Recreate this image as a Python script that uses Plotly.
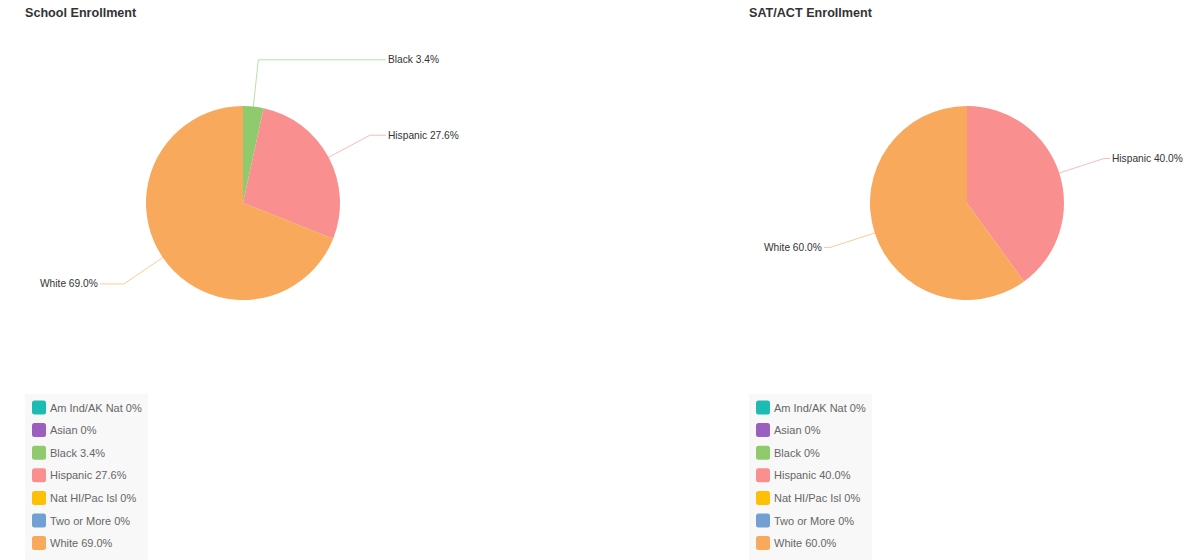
import math
import plotly.graph_objects as go

# ---- data ----
categories = ["Am Ind/AK Nat", "Asian", "Black", "Hispanic", "Nat HI/Pac Isl", "Two or More", "White"]
school_values = [0, 0, 3.4, 27.6, 0, 0, 69.0]
test_values = [0, 0, 0, 40.0, 0, 0, 60.0]
chart_titles = ["School Enrollment", "SAT/ACT Enrollment"]
colors = ["#1cbcb4", "#9a5fbf", "#8fcb6c", "#f98f8f", "#fdc005", "#72a0d2", "#f8a95c"]

W, H = 1200, 560
FONT = "Liberation Sans, Arial, sans-serif"

def px_x(x):
    return x / W

def px_y(y):
    return 1 - y / H

def fmt(v):
    return "0%" if v == 0 else f"{v:.1f}%"

panels = [
    dict(title=chart_titles[0], values=school_values, cx=243, cy=203, r=97, left=25),
    dict(title=chart_titles[1], values=test_values, cx=967, cy=203, r=97, left=749),
]

fig = go.Figure()
shapes = []
annotations = []

for p in panels:
    cx, cy, r = p["cx"], p["cy"], p["r"]
    vals = p["values"]
    fig.add_trace(go.Pie(
        labels=categories,
        values=vals,
        marker=dict(colors=colors, line=dict(width=0)),
        sort=False,
        direction="clockwise",
        rotation=0,
        textinfo="none",
        hoverinfo="label+percent",
        showlegend=False,
        domain=dict(x=[px_x(cx - r), px_x(cx + r)], y=[px_y(cy + r), px_y(cy - r)]),
    ))
    # title
    annotations.append(dict(
        text="<b>" + p["title"] + "</b>", x=px_x(p["left"] - 2), y=px_y(13),
        xref="paper", yref="paper", xanchor="left", yanchor="middle",
        showarrow=False, font=dict(family=FONT, size=12.6, color="#333333"),
    ))
    # leader lines + outside labels
    total = sum(vals)
    cum = 0.0
    for cat, v, col in zip(categories, vals, colors):
        if v <= 0:
            continue
        mid = (cum + v / 2) / total * 2 * math.pi
        cum += v
        dx, dy = math.sin(mid), -math.cos(mid)
        x0, y0 = cx + r * dx, cy + r * dy
        x1, y1 = cx + (r + 47) * dx, cy + (r + 47) * dy
        side = 1 if dx >= 0 else -1
        x2 = cx + side * 143
        shapes.append(dict(
            type="path", xref="paper", yref="paper",
            path=f"M {px_x(x0)} {px_y(y0)} L {px_x(x1)} {px_y(y1)} L {px_x(x2)} {px_y(y1)}",
            line=dict(color=col, width=1), opacity=0.6, layer="below",
        ))
        annotations.append(dict(
            text=f"{cat} {fmt(v)}", x=px_x(cx + side * 143), y=px_y(y1),
            xref="paper", yref="paper", xanchor="left" if side > 0 else "right",
            yanchor="middle", showarrow=False,
            font=dict(family=FONT, size=10.2, color="#333333"),
        ))
    # legend box
    lx = p["left"]
    shapes.append(dict(
        type="rect", xref="paper", yref="paper",
        x0=px_x(lx), x1=px_x(lx + 123), y0=px_y(560), y1=px_y(394),
        fillcolor="#f8f8f8", line=dict(width=0), layer="below",
    ))
    for i, (cat, v, col) in enumerate(zip(categories, vals, colors)):
        yc = 407.5 + i * 22.6
        sx0, sx1 = lx + 7, lx + 21
        sy0, sy1 = yc - 7, yc + 7
        rr = 2.5
        path = (
            f"M {px_x(sx0 + rr)} {px_y(sy0)} L {px_x(sx1 - rr)} {px_y(sy0)} "
            f"Q {px_x(sx1)} {px_y(sy0)} {px_x(sx1)} {px_y(sy0 + rr)} "
            f"L {px_x(sx1)} {px_y(sy1 - rr)} "
            f"Q {px_x(sx1)} {px_y(sy1)} {px_x(sx1 - rr)} {px_y(sy1)} "
            f"L {px_x(sx0 + rr)} {px_y(sy1)} "
            f"Q {px_x(sx0)} {px_y(sy1)} {px_x(sx0)} {px_y(sy1 - rr)} "
            f"L {px_x(sx0)} {px_y(sy0 + rr)} "
            f"Q {px_x(sx0)} {px_y(sy0)} {px_x(sx0 + rr)} {px_y(sy0)} Z"
        )
        shapes.append(dict(type="path", xref="paper", yref="paper", path=path,
                           fillcolor=col, line=dict(width=0)))
        annotations.append(dict(
            text=f"{cat} {fmt(v)}", x=px_x(lx + 23), y=px_y(yc),
            xref="paper", yref="paper", xanchor="left", yanchor="middle",
            showarrow=False, font=dict(family=FONT, size=11, color="#666666"),
        ))

fig.update_layout(
    width=W, height=H,
    margin=dict(l=0, r=0, t=0, b=0),
    paper_bgcolor="white", plot_bgcolor="white",
    shapes=shapes, annotations=annotations,
    showlegend=False,
)

fig.write_html(
    "out.html",
    config={"displayModeBar": False},
    post_script="document.body.style.margin='0';document.body.style.overflow='hidden';",
)
